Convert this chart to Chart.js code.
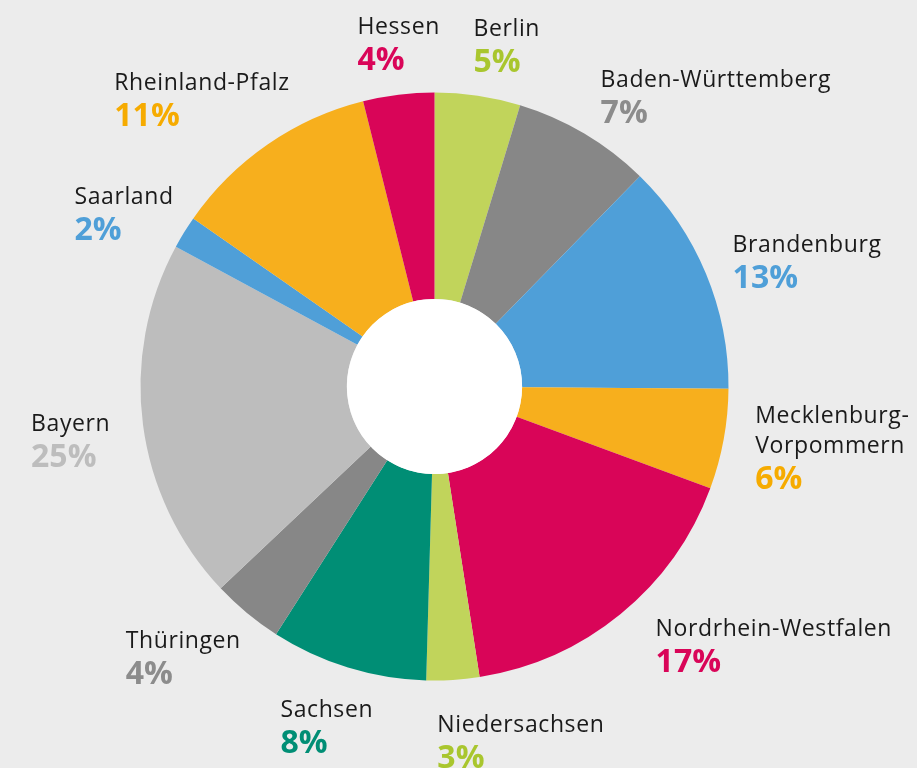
<!DOCTYPE html>
<html>
<head>
<meta charset="utf-8">
<script src="https://cdn.jsdelivr.net/npm/chart.js@4.4.1/dist/chart.umd.min.js"></script>
<style>
    html, body { margin: 0; padding: 0; background: #ececec; }
    #wrap { width: 917px; height: 768px; }
</style>
</head>
<body>
<div id="wrap"><canvas id="chartStates" width="917" height="768"></canvas></div>
<script>

// slices clockwise from 12 o'clock
const states = ["Berlin", "Baden-Württemberg", "Brandenburg", ["Mecklenburg-", "Vorpommern"],
    "Nordrhein-Westfalen", "Niedersachsen", "Sachsen", "Thüringen", "Bayern", "Saarland",
    "Rheinland-Pfalz", "Hessen"];
const shares = [4.7, 7.6, 12.8, 5.5, 16.9, 2.9, 8.6, 3.9, 19.9, 1.8, 11.4, 3.9];
const shareLabels = ["5%", "7%", "13%", "6%", "17%", "3%", "8%", "4%", "25%", "2%", "11%", "4%"];

const sliceColors = ["#c1d45b", "#878787", "#4f9fd8", "#f7af1d", "#d90558", "#c1d45b",
    "#008e75", "#878787", "#bdbdbd", "#4f9fd8", "#f7af1d", "#d90558"];
const pctColors = ["#a9c62e", "#8c8c8c", "#4f9fd8", "#f6ab00", "#d90558", "#a9c62e",
    "#008e75", "#8c8c8c", "#bdbdbd", "#4f9fd8", "#f6ab00", "#d90558"];

// hand placement tweaks for the labels, [dx, dy] in px
const labelNudge = [[5, 8], [1, 13], [-1, 11], [2, -4], [16, -12], [45, 5],
    [34, 5], [13, 1], [-3, 9], [15, 12], [39, 3], [24, 7]];

const NAME_FONT = "23px 'Open Sans'";
const PCT_FONT = "bold 32px 'Open Sans'";

const outsideLabels = {
    id: "outsideLabels",
    afterDatasetsDraw(chart) {
        const ctx = chart.ctx;
        const arcs = chart.getDatasetMeta(0).data;
        ctx.save();

        // white hole in the middle
        const a0 = arcs[0];
        ctx.fillStyle = "#ffffff";
        ctx.beginPath();
        ctx.arc(a0.x, a0.y, a0.innerRadius, 0, Math.PI * 2);
        ctx.fill();

        ctx.textAlign = "left";
        ctx.textBaseline = "alphabetic";
        arcs.forEach((arc, i) => {
            const mid = (arc.startAngle + arc.endAngle) / 2;
            const r = arc.outerRadius + 30;
            const ax = arc.x + Math.cos(mid) * r;
            const ay = arc.y + Math.sin(mid) * r;
            const lines = [].concat(states[i]);

            ctx.font = NAME_FONT;
            ctx.letterSpacing = "0.6px";
            let w = Math.max(...lines.map(l => ctx.measureText(l).width));
            ctx.font = PCT_FONT;
            ctx.letterSpacing = "0px";
            w = Math.max(w, ctx.measureText(shareLabels[i]).width);
            const h = 17 + (lines.length - 1) * 30 + 38;

            const side = Math.cos(mid);   // +1 right, -1 left
            const up = -Math.sin(mid);    // +1 top, -1 bottom
            const f = Math.min(1, Math.max(0, 0.5 - 2 * side));
            const left = ax - f * w + labelNudge[i][0];
            const top = ay - h / 2 * (1 + up) + labelNudge[i][1];

            ctx.font = NAME_FONT;
            ctx.letterSpacing = "0.6px";
            ctx.fillStyle = "#1a1a1a";
            lines.forEach((l, k) => ctx.fillText(l, left, top + 17 + k * 30));
            ctx.font = PCT_FONT;
            ctx.letterSpacing = "0px";
            ctx.fillStyle = pctColors[i];
            ctx.fillText(shareLabels[i], left, top + 17 + (lines.length - 1) * 30 + 36);
        });
        ctx.restore();
    }
};

const chart = new Chart(document.getElementById("chartStates").getContext("2d"), {
    type: "doughnut",
    data: {
        labels: states,
        datasets: [
            {
                data: shares,
                backgroundColor: sliceColors,
                borderWidth: 0
            }
        ]
    },
    options: {
        responsive: false,
        animation: false,
        events: [],
        cutout: "29.8%",
        layout: {
            padding: { left: 140.5, right: 188.5, top: 92.5, bottom: 87.5 }
        },
        plugins: {
            legend: { display: false },
            tooltip: { enabled: false }
        }
    },
    plugins: [outsideLabels]
});

</script>
</body>
</html>
